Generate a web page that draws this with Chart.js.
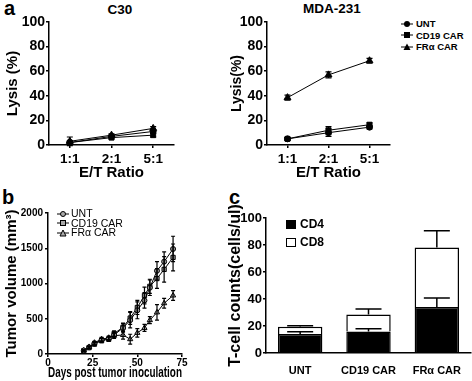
<!DOCTYPE html>
<html>
<head>
<meta charset="utf-8">
<script src="https://cdn.jsdelivr.net/npm/chart.js@4.4.0/dist/chart.umd.min.js"></script>
<style>
    body { margin: 0; background: #fff; width: 472px; height: 381px; position: relative; overflow: hidden;
           font-family: "Liberation Sans", Arial, sans-serif; color: #000; }
    canvas { position: absolute; }
    .txt { position: absolute; white-space: nowrap; }
    .letter { font-size: 20px; font-weight: bold; }
    .title { font-size: 13.5px; font-weight: bold; transform: translateX(-50%); }
    .leg { position: absolute; }
    .leg div { display: flex; align-items: center; }
    .leg svg { margin-right: 3px; }
    .legA { font-size: 9.5px; font-weight: bold; line-height: 11.5px; }
    .legB { font-size: 10.5px; line-height: 9.5px; }
    .legB svg { margin-right: 2px; }
    .legC { font-size: 12px; font-weight: bold; line-height: 18px; }
    .sw { display: inline-block; width: 10px; height: 9px; border: 1.5px solid #000; box-sizing: border-box; margin-right: 4px; }
</style>
</head>
<body>
<div class="txt letter" style="left:4px;top:-3px">a</div>
<div class="txt letter" style="left:2px;top:186px">b</div>
<div class="txt letter" style="left:229px;top:186px">c</div>
<div class="txt title" style="left:120px;top:2px">C30</div>
<div class="txt title" style="left:332px;top:1px">MDA-231</div>

<canvas id="lysisC30" width="200" height="185" style="left:0;top:0"></canvas>
<canvas id="lysisMDA" width="170" height="185" style="left:225px;top:0"></canvas>
<canvas id="tumorChart" width="200" height="191" style="left:0;top:190px"></canvas>
<canvas id="tcellChart" width="248" height="191" style="left:224px;top:190px"></canvas>

<div class="leg legA" style="left:401px;top:18px">
    <div><svg width="12" height="8"><line x1="0" y1="4" x2="12" y2="4" stroke="#000"/><circle cx="6" cy="4" r="3" fill="#000"/></svg>UNT</div>
    <div><svg width="12" height="8"><line x1="0" y1="4" x2="12" y2="4" stroke="#000"/><rect x="3" y="1" width="6" height="6" fill="#000"/></svg>CD19 CAR</div>
    <div><svg width="12" height="8"><line x1="0" y1="4" x2="12" y2="4" stroke="#000"/><polygon points="6,0.5 9.5,7 2.5,7" fill="#000"/></svg>FRα CAR</div>
</div>
<div class="leg legB" style="left:57px;top:209px">
    <div><svg width="12" height="8"><line x1="0" y1="4" x2="12" y2="4" stroke="#000"/><circle cx="6" cy="4" r="2.5" fill="#aaa" stroke="#000"/></svg>UNT</div>
    <div><svg width="12" height="8"><line x1="0" y1="4" x2="12" y2="4" stroke="#000"/><rect x="3.5" y="1.5" width="5" height="5" fill="#aaa" stroke="#000"/></svg>CD19 CAR</div>
    <div><svg width="12" height="8"><line x1="0" y1="4" x2="12" y2="4" stroke="#000"/><polygon points="6,1 9,7 3,7" fill="#aaa" stroke="#000"/></svg>FRα CAR</div>
</div>
<div class="leg legC" style="left:286px;top:215px">
    <div><span class="sw" style="background:#000"></span>CD4</div>
    <div><span class="sw" style="background:#fff"></span>CD8</div>
</div>

<script>
// 세포 용해 실험 (E/T ratio)
const ratios = ['1:1', '2:1', '5:1'];
const c30Unt = [2, 7, 11];
const c30UntErr = [1, 1, 1.5];
const c30Cd19 = [2, 6, 8];
const c30Cd19Err = [1, 1, 1.5];
const c30Fra = [3, 8, 13.5];
const c30FraErr = [3.5, 1, 1.5];
const mdaUnt = [5, 10, 14.5];
const mdaUntErr = [1, 3, 1.5];
const mdaCd19 = [5, 12, 16.5];
const mdaCd19Err = [1, 3, 1.5];
const mdaFra = [38.5, 57, 68.5];
const mdaFraErr = [2, 2.5, 2];

// 종양 부피
const days = [20, 23, 26, 30, 34, 37, 42, 46, 50, 54, 57, 61, 65, 70];
const volUnt = [50, 95, 150, 200, 220, 270, 370, 480, 620, 760, 940, 1180, 1310, 1490];
const volUntErr = [10, 15, 20, 25, 25, 30, 60, 110, 120, 110, 110, 130, 140, 180];
const volCd19 = [45, 90, 140, 190, 210, 290, 380, 510, 660, 830, 960, 1070, 1200, 1370];
const volCd19Err = [10, 15, 20, 30, 30, 40, 60, 90, 100, 120, 100, 140, 180, 190];
const volFra = [50, 100, 160, 210, 230, 260, 270, 210, 300, 370, 480, 590, 720, 830];
const volFraErr = [10, 15, 20, 25, 25, 40, 60, 70, 60, 50, 50, 110, 70, 70];

// T 세포 수
const groups = ['UNT', 'CD19 CAR', 'FRα CAR'];
const cd4 = [14, 16, 34];
const cd4Err = [1.7, 2, 6.7];
const cd8 = [5.5, 12.6, 44.2];
const cd8Err = [0.7, 4, 12.4];

const FONT = '"Liberation Sans", Arial, sans-serif';
Chart.defaults.font.family = FONT;
Chart.defaults.color = '#000';

// 에러바 플러그인
const errorBars = {
    id: 'errorBars',
    afterDatasetsDraw(chart) {
        const ctx = chart.ctx;
        const y = chart.scales.y;
        chart.data.datasets.forEach((ds, i) => {
            if (!ds.errors) return;
            const meta = chart.getDatasetMeta(i);
            ctx.save();
            ctx.strokeStyle = '#000';
            ctx.lineWidth = ds.errWidth || 1.2;
            meta.data.forEach((el, j) => {
                const d = y.getPixelForValue(0) - y.getPixelForValue(ds.errors[j]);
                const top = el.y - d;
                const bottom = ds.upOnly ? el.y : el.y + d;
                const half = ds.capWidth / 2;
                ctx.beginPath();
                ctx.moveTo(el.x, top); ctx.lineTo(el.x, bottom);
                ctx.moveTo(el.x - half, top); ctx.lineTo(el.x + half, top);
                if (!ds.upOnly) {
                    ctx.moveTo(el.x - half, bottom); ctx.lineTo(el.x + half, bottom);
                }
                ctx.stroke();
            });
            ctx.restore();
        });
    }
};

function axisStyle(tickSize) {
    return {
        border: { display: true, color: '#000', width: 1.5 },
        grid: { drawOnChartArea: false, drawTicks: true, tickLength: 3, color: '#000', lineWidth: 1.5, offset: false },
        ticks: { font: { size: tickSize, weight: 'bold' }, padding: 1, color: '#000', format: { useGrouping: false } }
    };
}

function lineSet(label, data, errors, style, radius, fill, cap) {
    return {
        label: label,
        data: data,
        errors: errors,
        capWidth: cap,
        borderColor: '#000',
        borderWidth: 1,
        pointStyle: style,
        pointRadius: radius,
        pointBackgroundColor: fill,
        pointBorderColor: '#000',
        pointBorderWidth: 1
    };
}

function lysisChart(id, unt, untErr, cd19, cd19Err, fra, fraErr, yWidth, yTitle, yTitleSize, padRight) {
    const x = axisStyle(13.5);
    x.offset = true;
    x.afterFit = s => { s.height = 40; };
    x.title = { display: true, text: 'E/T Ratio', font: { size: 15, weight: 'bold' }, padding: { top: 0, bottom: 3 } };
    x.ticks.padding = 3;
    const y = axisStyle(14);
    y.min = 0; y.max = 100;
    y.ticks.stepSize = 20;
    y.afterFit = s => { s.width = yWidth; };
    y.title = { display: true, text: yTitle, font: { size: yTitleSize, weight: 'bold' }, padding: { top: 4, bottom: 0 } };

    new Chart(document.getElementById(id), {
        type: 'line',
        data: {
            labels: ratios,
            datasets: [
                lineSet('UNT', unt, untErr, 'circle', 3, '#000', 6),
                lineSet('CD19 CAR', cd19, cd19Err, 'rect', 3.5, '#000', 6),
                lineSet('FRα CAR', fra, fraErr, 'triangle', 4, '#000', 6)
            ]
        },
        options: {
            responsive: false,
            animation: false,
            layout: { padding: { top: 22, right: padRight, left: 0, bottom: 0 } },
            plugins: { legend: { display: false }, tooltip: { enabled: false } },
            scales: { x: x, y: y }
        },
        plugins: [errorBars]
    });
}

lysisChart('lysisC30', c30Unt, c30UntErr, c30Cd19, c30Cd19Err, c30Fra, c30FraErr, 49, 'Lysis (%)', 15, 26);
lysisChart('lysisMDA', mdaUnt, mdaUntErr, mdaCd19, mdaCd19Err, mdaFra, mdaFraErr, 42, 'Lysis(%)', 14, 4);

// 종양 성장 곡선
(function() {
    const x = axisStyle(10);
    x.type = 'linear';
    x.min = 0; x.max = 75;
    x.ticks.stepSize = 25;
    x.ticks.padding = 0;
    x.afterFit = s => { s.height = 27; };
    x.title = { display: true, text: 'Days post tumor inoculation', font: { size: 15, weight: 'bold', lineHeight: 1 }, padding: { top: 0, bottom: 1 } };
    const y = axisStyle(10);
    y.min = 0; y.max = 2000;
    y.ticks.stepSize = 500;
    y.ticks.padding = 2;
    y.afterFit = s => { s.width = 48; };
    y.title = { display: true, text: 'Tumor volume (mm³)', font: { size: 15, weight: 'bold' }, padding: { top: 3, bottom: 0 } };

    const pts = vals => days.map((d, i) => ({ x: d, y: vals[i] }));
    new Chart(document.getElementById('tumorChart'), {
        type: 'line',
        data: {
            datasets: [
                lineSet('UNT', pts(volUnt), volUntErr, 'circle', 2.5, '#999', 4),
                lineSet('CD19 CAR', pts(volCd19), volCd19Err, 'rect', 3, '#999', 4),
                lineSet('FRα CAR', pts(volFra), volFraErr, 'triangle', 3, '#bbb', 4)
            ]
        },
        options: {
            responsive: false,
            animation: false,
            layout: { padding: { top: 23, right: 18, left: 0, bottom: 0 } },
            plugins: { legend: { display: false }, tooltip: { enabled: false } },
            scales: { x: x, y: y }
        },
        plugins: [errorBars]
    });
})();

// T 세포 누적 막대
(function() {
    const x = axisStyle(11);
    x.stacked = true;
    x.grid.display = false;
    x.ticks.padding = 8;
    x.afterFit = s => { s.height = 28; };
    const y = axisStyle(13);
    y.stacked = true;
    y.min = 0; y.max = 100;
    y.ticks.stepSize = 20;
    y.afterFit = s => { s.width = 42; };
    y.title = { display: true, text: 'T-cell counts(cells/ul)', font: { size: 16, weight: 'bold' }, padding: { top: 2, bottom: 0 } };

    new Chart(document.getElementById('tcellChart'), {
        type: 'bar',
        data: {
            labels: groups,
            datasets: [
                { label: 'CD4', data: cd4, errors: cd4Err, upOnly: true, capWidth: 26, errWidth: 1.5,
                  backgroundColor: '#000', borderColor: '#000', borderWidth: 1.5,
                  barPercentage: 0.65, categoryPercentage: 1 },
                { label: 'CD8', data: cd8, errors: cd8Err, upOnly: true, capWidth: 26, errWidth: 1.5,
                  backgroundColor: '#fff', borderColor: '#000', borderWidth: 1.5,
                  barPercentage: 0.65, categoryPercentage: 1 }
            ]
        },
        options: {
            responsive: false,
            animation: false,
            layout: { padding: { top: 28, right: 1, left: 0, bottom: 0 } },
            plugins: { legend: { display: false }, tooltip: { enabled: false } },
            scales: { x: x, y: y }
        },
        plugins: [errorBars]
    });
})();
</script>
</body>
</html>
